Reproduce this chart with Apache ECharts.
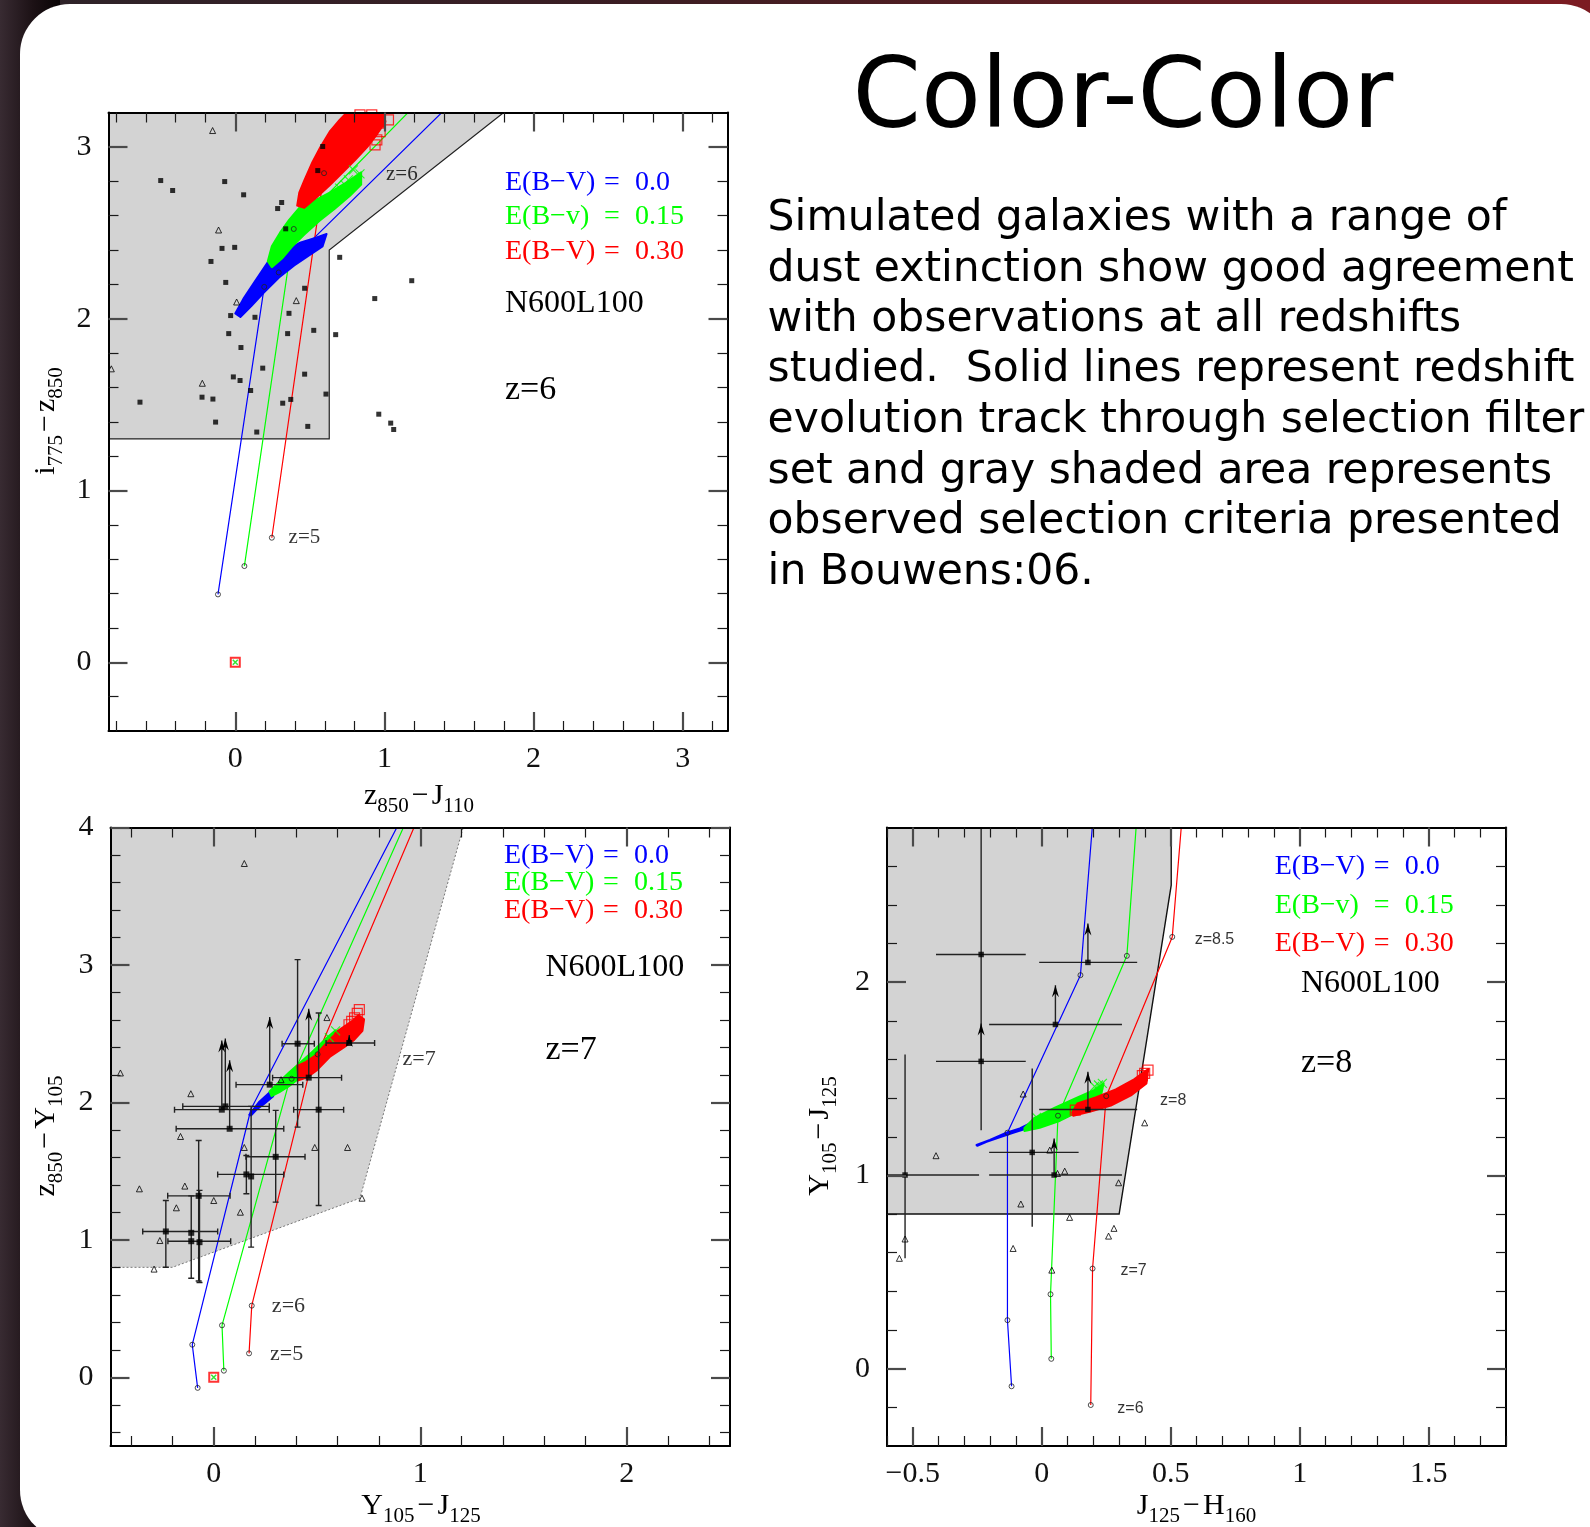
<!DOCTYPE html>
<html>
<head>
<meta charset="utf-8">
<title>Color-Color</title>
<script src="https://cdn.jsdelivr.net/npm/echarts@6.0.0/dist/echarts.min.js"></script>
<style>
  html, body { margin:0; padding:0; width:1590px; height:1527px; overflow:hidden; }
  body { position:relative; background:linear-gradient(90deg,#2d2329 0%,#3b1d23 40%,#7c1c22 100%); }
  #rim { position:absolute; left:0; top:0; width:60px; height:1527px; background:linear-gradient(90deg,#382b32 0%,#1c1115 55%,#080405 100%); }
  #card { position:absolute; left:20px; top:4px; width:1591px; height:1536px; background:#fff; border-radius:50px; }
  #chart { position:absolute; left:0; top:0; width:1590px; height:1527px; }
</style>
</head>
<body>
<div id="rim"></div>
<div id="card"></div>
<div id="chart"></div>
<script>
const SERIF = '"Liberation Serif", "Times New Roman", serif';
const SANS = '"DejaVu Sans", Verdana, sans-serif';
const HELV = '"Liberation Sans", Arial, sans-serif';
const TRACK_COLORS = ['#0000ff', '#00ff00', '#ff0000'];

// ---------- Slide text ----------
const slideTitle = 'Color-Color';
const bodyLines = [
  'Simulated galaxies with a range of',
  'dust extinction show good agreement',
  'with observations at all redshifts',
  'studied.  Solid lines represent redshift',
  'evolution track through selection filter',
  'set and gray shaded area represents',
  'observed selection criteria presented',
  'in Bouwens:06.'
];

// ---------- Panel 1 : i775-z850 vs z850-J110 (z=6) ----------
const p1XRange = [-0.85, 3.3];
const p1YRange = [-0.4, 3.2];
const p1XMajor = [0, 1, 2, 3];
const p1YMajor = [0, 1, 2, 3];
const p1Shade = [[-0.85,1.3],[0.63,1.3],[0.63,2.40],[1.80,3.2],[-0.85,3.2]];
const p1BlueTrack = [[-0.116,0.395],[0.194,2.185],[1.40,3.213]];
const p1GreenTrack = [[0.061,0.560],[0.392,2.522],[1.17,3.21]];
const p1RedTrack = [[0.245,0.725],[0.595,2.847],[1.02,3.21]];
const p1TrackMarks = [[-0.116,0.395],[0.061,0.560],[0.245,0.725],[0.194,2.185],[0.291,2.269],[0.392,2.522],[0.595,2.847]];
const p1BlueCloud = [[0.0,2.030],[0.054,2.115],[0.122,2.204],[0.177,2.275],[0.231,2.345],[0.327,2.392],[0.429,2.440],[0.531,2.469],[0.612,2.493],[0.585,2.420],[0.497,2.370],[0.395,2.310],[0.293,2.240],[0.190,2.150],[0.109,2.075],[0.034,2.010]];
const p1GreenCloud = [[0.218,2.334],[0.245,2.422],[0.299,2.499],[0.361,2.575],[0.429,2.644],[0.531,2.687],[0.633,2.734],[0.735,2.787],[0.844,2.852],[0.844,2.780],[0.769,2.715],[0.667,2.640],[0.565,2.570],[0.463,2.490],[0.381,2.420],[0.313,2.350],[0.245,2.300]];
const p1RedCloud = [[0.415,2.658],[0.429,2.734],[0.463,2.805],[0.517,2.911],[0.571,2.999],[0.633,3.088],[0.701,3.158],[0.748,3.2],[0.993,3.2],[1.007,3.147],[0.952,3.076],[0.884,2.999],[0.803,2.923],[0.721,2.852],[0.633,2.776],[0.544,2.705],[0.463,2.646]];
const p1RedSquares = [[0.792,3.157],[0.859,3.167],[0.915,3.186],[0.960,3.138],[0.971,3.089],[0.949,3.041],[0.937,3.012],[1.027,3.157],[0.836,3.186],[0.770,3.138],[0.893,3.080]];
const p1GreenCrosses = [[0.836,2.843],[0.758,2.808],[0.736,2.779],[0.792,2.866],[0.700,2.760]];
const p1Squares = [[0.586,3.002],[0.553,2.862],[-0.500,2.804],[-0.420,2.746],[-0.071,2.798],[0.056,2.721],[0.311,2.676],[0.284,2.641],[0.338,2.523],[-0.089,2.409],[-0.004,2.415],[-0.163,2.333],[-0.064,2.211],[0.465,2.177],[0.132,2.008],[0.360,2.031],[-0.031,2.018],[-0.044,1.913],[0.351,1.913],[0.526,1.932],[0.673,1.907],[0.700,2.357],[1.183,2.221],[0.935,2.117],[0.038,1.832],[0.184,1.712],[-0.013,1.661],[0.032,1.640],[0.465,1.677],[0.103,1.582],[0.608,1.561],[-0.639,1.514],[-0.223,1.543],[-0.150,1.532],[0.318,1.508],[0.372,1.530],[-0.132,1.398],[0.144,1.340],[0.486,1.373],[0.962,1.444],[1.042,1.392],[1.062,1.355]];
const p1Triangles = [[-0.152,3.095],[-0.112,2.516],[0.009,2.097],[0.409,2.105],[-0.831,1.708],[-0.221,1.624]];
const p1Notes = [[0.354,0.725,'z=5'],[1.007,2.84,'z=6']];
const p1Legend = [['E(B−V)','0.0'],['E(B−v)','0.15'],['E(B−V)','0.30']];
const p1Model = 'N600L100';
const p1Redshift = 'z=6';

// ---------- Panel 2 : z850-Y105 vs Y105-J125 (z=7) ----------
const p2XRange = [-0.5, 2.5];
const p2YRange = [-0.5, 4];
const p2XMajor = [0, 1, 2];
const p2YMajor = [0, 1, 2, 3, 4];
const p2Shade = [[-0.5,0.8],[-0.2,0.8],[0.708,1.303],[1.208,4.0],[-0.5,4.0]];
const p2BlueTrack = [[-0.078,-0.077],[-0.104,0.237],[0.18,1.95],[0.921,4.1]];
const p2GreenTrack = [[0.049,0.048],[0.040,0.378],[0.36,2.12],[0.948,4.1]];
const p2RedTrack = [[0.171,0.174],[0.184,0.521],[0.46,2.2],[0.998,4.1]];
const p2TrackMarks = [[-0.078,-0.077],[-0.104,0.237],[0.049,0.048],[0.040,0.378],[0.171,0.174],[0.184,0.521],[0.377,2.172],[0.503,2.35]];
const p2BlueCloud = [[0.172,1.910],[0.221,2.005],[0.269,2.070],[0.292,2.100],[0.288,2.045],[0.245,1.990],[0.205,1.945],[0.180,1.905]];
const p2GreenCloud = [[0.270,2.080],[0.318,2.150],[0.366,2.220],[0.415,2.285],[0.479,2.370],[0.544,2.465],[0.590,2.525],[0.575,2.430],[0.520,2.350],[0.447,2.240],[0.400,2.160],[0.366,2.120],[0.318,2.075],[0.280,2.045]];
const p2RedCloud = [[0.405,2.265],[0.447,2.295],[0.495,2.345],[0.544,2.430],[0.592,2.512],[0.640,2.560],[0.673,2.595],[0.700,2.635],[0.728,2.605],[0.720,2.520],[0.680,2.455],[0.630,2.400],[0.565,2.335],[0.500,2.235],[0.450,2.180],[0.410,2.160]];
const p2RedSquares = [[0.705,2.675],[0.695,2.648],[0.682,2.615],[0.668,2.590],[0.655,2.565]];
const p2GreenCrosses = [[0.560,2.470],[0.590,2.520]];
const p2Triangles = [[0.148,3.738],[0.548,2.617],[-0.452,2.214],[-0.111,2.063],[0.326,2.165],[-0.161,1.752],[0.148,1.672],[0.489,1.672],[0.648,1.672],[-0.360,1.371],[-0.140,1.391],[0.0,1.286],[-0.181,1.233],[0.129,1.201],[0.718,1.303],[-0.261,0.995],[-0.289,0.787]];
// [x, y, xLow, xHigh, yLow, yHigh, lowerLimitArrowTop]
const p2Obs = [
  [0.406,2.427,0.331,0.487,1.820,3.039,null],
  [0.460,2.180,0.285,0.619,null,null,2.682],
  [0.508,1.947,0.387,0.629,1.250,2.650,null],
  [0.271,2.129,0.108,0.431,null,null,2.621],
  [0.039,1.947,-0.190,0.269,null,null,2.451],
  [0.056,1.971,-0.150,0.269,null,null,2.464],
  [0.077,1.808,-0.182,0.339,null,null,2.306],
  [0.158,1.476,0.019,0.339,1.335,1.614,null],
  [0.181,1.461,null,null,0.947,1.971,null],
  [0.300,1.604,0.156,0.442,1.274,1.942,null],
  [-0.073,1.320,-0.223,0.079,0.700,1.723,null],
  [-0.232,1.061,-0.344,0.019,0.800,1.286,null],
  [-0.109,1.051,null,null,0.720,1.320,null],
  [-0.109,0.990,-0.222,0.082,null,null,null],
  [-0.069,0.983,null,null,0.690,1.360,null],
  [0.656,2.432,0.544,0.779,null,null,2.49]
];
const p2Notes = [[0.279,0.517,'z=6'],[0.270,0.170,'z=5'],[0.912,2.317,'z=7']];
const p2Legend = [['E(B−V)','0.0'],['E(B−V)','0.15'],['E(B−V)','0.30']];
const p2Model = 'N600L100';
const p2Redshift = 'z=7';

// ---------- Panel 3 : Y105-J125 vs J125-H160 (z=8) ----------
const p3XRange = [-0.6, 1.8];
const p3YRange = [-0.4, 2.8];
const p3XMajor = [-0.5, 0, 0.5, 1, 1.5];
const p3YMajor = [0, 1, 2];
const p3Shade = [[-0.6,0.8],[0.3,0.8],[0.502,2.502],[0.502,2.8],[-0.6,2.8]];
const p3BlueTrack = [[-0.117,-0.091],[-0.133,0.251],[-0.133,1.221],[0.150,2.036],[0.196,2.803],[0.202,2.9]];
const p3GreenTrack = [[0.037,0.051],[0.034,0.385],[0.063,1.309],[0.330,2.136],[0.366,2.803],[0.372,2.9]];
const p3RedTrack = [[0.190,-0.188],[0.197,0.518],[0.25,1.41],[0.506,2.234],[0.541,2.803],[0.547,2.9]];
const p3TrackMarks = [[-0.117,-0.091],[-0.133,0.251],[-0.133,1.221],[0.150,2.036],[0.037,0.051],[0.034,0.385],[0.063,1.309],[0.330,2.136],[0.190,-0.188],[0.197,0.518],[0.25,1.41],[0.506,2.234]];
const p3BlueCloud = [[-0.253,1.157],[-0.201,1.183],[-0.137,1.221],[-0.085,1.243],[-0.046,1.269],[-0.059,1.243],[-0.111,1.221],[-0.163,1.197],[-0.214,1.174],[-0.250,1.153]];
const p3GreenCloud = [[-0.067,1.246],[-0.028,1.298],[0.051,1.351],[0.130,1.398],[0.209,1.445],[0.240,1.476],[0.228,1.403],[0.150,1.335],[0.071,1.283],[-0.008,1.246],[-0.067,1.230]];
const p3RedCloud = [[0.118,1.325],[0.138,1.372],[0.209,1.403],[0.287,1.445],[0.358,1.497],[0.413,1.550],[0.406,1.476],[0.346,1.414],[0.268,1.361],[0.189,1.330],[0.122,1.309]];
const p3RedSquares = [[0.412,1.545],[0.399,1.528],[0.390,1.516],[0.130,1.338]];
const p3GreenCrosses = [[0.205,1.460],[0.220,1.468],[0.235,1.476],[-0.020,1.300]];
const p3Triangles = [[-0.072,1.421],[-0.410,1.102],[0.031,1.131],[0.089,1.022],[0.061,1.010],[0.298,0.962],[0.399,1.272],[-0.081,0.852],[0.108,0.783],[0.280,0.726],[0.259,0.686],[-0.111,0.622],[-0.530,0.671],[-0.552,0.571],[0.039,0.510]];
const p3Obs = [
  [-0.235,2.143,-0.410,-0.062,1.234,2.8,null],
  [-0.235,1.590,-0.410,-0.062,null,null,1.786],
  [0.179,2.102,-0.010,0.370,null,null,2.303],
  [0.053,1.781,-0.204,0.311,null,null,1.984],
  [0.179,1.341,-0.010,0.370,null,null,1.536],
  [-0.037,1.119,-0.204,0.143,0.734,1.553,null],
  [-0.530,1.002,-0.600,-0.243,0.571,1.626,null],
  [0.048,1.002,-0.204,0.311,null,null,1.191]
];
const p3Notes = [[0.591,2.22,'z=8.5'],[0.457,1.387,'z=8'],[0.303,0.508,'z=7'],[0.291,-0.204,'z=6']];
const p3Legend = [['E(B−V)','0.0'],['E(B−v)','0.15'],['E(B−V)','0.30']];
const p3Model = 'N600L100';
const p3Redshift = 'z=8';

// reference colour point at the origin (panels 1 and 2)
const originPoint = [[0, 0]];

// ---------- helpers ----------
function minorTicks(lo, hi, step, majors) {
  const out = [];
  const n = Math.round((hi - lo) / step);
  for (let i = 0; i <= n; i++) {
    const v = Math.round((lo + i * step) * 1000) / 1000;
    if (!majors.some(m => Math.abs(m - v) < 1e-6)) out.push(v);
  }
  return out;
}
const fmt = v => (v < 0 ? '−' : '') + String(Math.abs(Math.round(v * 100) / 100));

const panels = [
  { grid:{left:108.5, top:112.5, width:619, height:618.5},
    xRange:p1XRange, yRange:p1YRange, xMajor:p1XMajor, yMajor:p1YMajor,
    xMinor:minorTicks(-0.8, 3.2, 0.2, p1XMajor), yMinor:minorTicks(-0.2, 3.0, 0.2, p1YMajor),
    shade:p1Shade, shadeStyle:{stroke:'#222', lineWidth:1.2},
    tracks:[p1BlueTrack, p1GreenTrack, p1RedTrack], marks:p1TrackMarks,
    clouds:[p1BlueCloud, p1GreenCloud, p1RedCloud],
    redSquares:p1RedSquares, greenCrosses:p1GreenCrosses,
    squares:p1Squares, squareSize:5, triangles:p1Triangles, obs:null,
    notes:p1Notes, noteFont:SERIF, noteSize:21, origin:true },
  { grid:{left:110.5, top:827.5, width:619.5, height:618.5},
    xRange:p2XRange, yRange:p2YRange, xMajor:p2XMajor, yMajor:p2YMajor,
    xMinor:minorTicks(-0.4, 2.4, 0.2, p2XMajor), yMinor:minorTicks(-0.4, 3.8, 0.2, p2YMajor),
    shade:p2Shade, shadeStyle:{stroke:'#777', lineWidth:1, lineDash:[2,2]},
    tracks:[p2BlueTrack, p2GreenTrack, p2RedTrack], marks:p2TrackMarks,
    clouds:[p2BlueCloud, p2GreenCloud, p2RedCloud],
    redSquares:p2RedSquares, greenCrosses:p2GreenCrosses,
    squares:p2Obs.map(o => [o[0], o[1]]), squareSize:6, triangles:p2Triangles, obs:p2Obs, caps:true,
    notes:p2Notes, noteFont:SERIF, noteSize:22, origin:true },
  { grid:{left:887, top:827.5, width:619, height:618.5},
    xRange:p3XRange, yRange:p3YRange, xMajor:p3XMajor, yMajor:p3YMajor,
    xMinor:minorTicks(-0.6, 1.8, 0.1, p3XMajor), yMinor:minorTicks(-0.2, 2.6, 0.2, p3YMajor),
    shade:p3Shade, shadeStyle:{stroke:'#111', lineWidth:1.4},
    tracks:[p3BlueTrack, p3GreenTrack, p3RedTrack], marks:p3TrackMarks,
    clouds:[p3BlueCloud, p3GreenCloud, p3RedCloud],
    redSquares:p3RedSquares, greenCrosses:p3GreenCrosses,
    squares:p3Obs.map(o => [o[0], o[1]]), squareSize:5.5, triangles:p3Triangles, obs:p3Obs, caps:false,
    notes:p3Notes, noteFont:HELV, noteSize:16, origin:false }
];

function axisSet(dim, gi, range, major, minor) {
  const pos = dim === 'x' ? ['bottom', 'top'] : ['left', 'right'];
  const base = {type:'value', gridIndex:gi, min:range[0], max:range[1], z:10,
                splitLine:{show:false}, splitArea:{show:false}};
  const line = {show:true, onZero:false, lineStyle:{color:'#000', width:2}};
  const noLine = {show:false, onZero:false};
  const majorTick = {show:true, inside:true, length:19, customValues:major, lineStyle:{color:'#4a4a4a', width:2.2}};
  const minorTick = {show:true, inside:true, length:10, customValues:minor, lineStyle:{color:'#1a1a1a', width:1.2}};
  const label = {show:true, customValues:major, formatter:fmt, fontFamily:SERIF, fontSize:30,
                 color:'#111', margin: dim === 'x' ? 13 : 17};
  return [
    Object.assign({}, base, {position:pos[0], axisLine:line, axisTick:majorTick, axisLabel:label}),
    Object.assign({}, base, {position:pos[0], axisLine:noLine, axisTick:minorTick, axisLabel:{show:false}}),
    Object.assign({}, base, {position:pos[1], axisLine:line, axisTick:majorTick, axisLabel:{show:false}}),
    Object.assign({}, base, {position:pos[1], axisLine:noLine, axisTick:minorTick, axisLabel:{show:false}})
  ];
}

function polygonSeries(ax, verts, style, z) {
  return Object.assign({type:'custom', z, silent:true, clip:true, data:verts, encode:{x:0, y:1},
    renderItem(params, api) {
      if (params.dataIndex !== 0) return null;
      return {type:'polygon', shape:{points:verts.map(v => api.coord(v))}, style};
    }}, ax);
}

function errorBarSeries(ax, obs, caps) {
  return Object.assign({type:'custom', z:6, silent:true, clip:true,
    data:obs.map(o => [o[0], o[1]]), encode:{x:0, y:1},
    renderItem(params, api) {
      const o = obs[params.dataIndex];
      const ch = [];
      const st = {stroke:'#222', lineWidth:1.4};
      const seg = (a, b) => ch.push({type:'line', shape:{x1:a[0], y1:a[1], x2:b[0], y2:b[1]}, style:st});
      if (o[2] != null) {
        const a = api.coord([o[2], o[1]]), b = api.coord([o[3], o[1]]);
        seg(a, b);
        if (caps) { seg([a[0], a[1]-3], [a[0], a[1]+3]); seg([b[0], b[1]-3], [b[0], b[1]+3]); }
      }
      if (o[4] != null) {
        const a = api.coord([o[0], o[4]]), b = api.coord([o[0], o[5]]);
        seg(a, b);
        if (caps) { seg([a[0]-3, a[1]], [a[0]+3, a[1]]); seg([b[0]-3, b[1]], [b[0]+3, b[1]]); }
      }
      if (o[6] != null) {
        const a = api.coord([o[0], o[1]]), b = api.coord([o[0], o[6]]);
        seg(a, b);
        ch.push({type:'polygon', shape:{points:[[b[0], b[1]], [b[0]-3.5, b[1]+12], [b[0], b[1]+8], [b[0]+3.5, b[1]+12]]},
                 style:{fill:'#000'}});
      }
      return {type:'group', children:ch};
    }}, ax);
}

const xAxes = [], yAxes = [], grids = [], series = [];
const CROSS = 'path://M0,0L10,10M10,0L0,10';

panels.forEach((p, gi) => {
  grids.push(Object.assign({containLabel:false}, p.grid));
  xAxes.push(...axisSet('x', gi, p.xRange, p.xMajor, p.xMinor));
  yAxes.push(...axisSet('y', gi, p.yRange, p.yMajor, p.yMinor));
  const ax = {xAxisIndex:4 * gi, yAxisIndex:4 * gi};

  series.push(polygonSeries(ax, p.shade, Object.assign({fill:'#d3d3d3'}, p.shadeStyle), 1));
  p.tracks.forEach((t, k) => series.push(Object.assign({type:'line', data:t, symbol:'none', clip:true, z:2,
      silent:true, lineStyle:{color:TRACK_COLORS[k], width:1.2}}, ax)));
  p.clouds.forEach((c, k) => series.push(polygonSeries(ax, c,
      {fill:TRACK_COLORS[k], stroke:TRACK_COLORS[k], lineWidth:2, lineJoin:'round'}, 3)));
  series.push(Object.assign({type:'scatter', data:p.redSquares, symbol:'rect', symbolSize:10, z:4, silent:true,
      itemStyle:{color:'rgba(0,0,0,0)', borderColor:'#ff0000', borderWidth:1.2}}, ax));
  series.push(Object.assign({type:'scatter', data:p.greenCrosses, symbol:CROSS, symbolSize:9, z:4, silent:true,
      itemStyle:{color:'rgba(0,0,0,0)', borderColor:'#00ff00', borderWidth:1.2}}, ax));
  series.push(Object.assign({type:'scatter', data:p.marks, symbol:'circle', symbolSize:5, z:5, silent:true,
      itemStyle:{color:'rgba(0,0,0,0)', borderColor:'#222', borderWidth:1}}, ax));
  if (p.obs) series.push(errorBarSeries(ax, p.obs, p.caps));
  series.push(Object.assign({type:'scatter', data:p.squares, symbol:'rect', symbolSize:p.squareSize, z:6, silent:true,
      itemStyle:{color:'#000'}}, ax));
  series.push(Object.assign({type:'scatter', data:p.triangles, symbol:'triangle', symbolSize:6, z:6, silent:true,
      itemStyle:{color:'rgba(0,0,0,0)', borderColor:'#000', borderWidth:1}}, ax));
  if (p.origin) {
    series.push(Object.assign({type:'scatter', data:originPoint, symbol:'rect', symbolSize:9, z:6, silent:true,
        itemStyle:{color:'rgba(0,0,0,0)', borderColor:'#ff0000', borderWidth:2}}, ax));
    series.push(Object.assign({type:'scatter', data:originPoint, symbol:CROSS, symbolSize:5, z:7, silent:true,
        itemStyle:{color:'rgba(0,0,0,0)', borderColor:'#00dd00', borderWidth:1.5}}, ax));
  }
  series.push(Object.assign({type:'scatter', data:p.notes, symbolSize:1, z:7, silent:true,
      itemStyle:{color:'rgba(0,0,0,0)'},
      label:{show:true, position:'right', distance:0, formatter:q => q.data[2],
             fontFamily:p.noteFont, fontSize:p.noteSize, color:'#000'}}, ax));
});

// ---------- text blocks ----------
const measureCtx = document.createElement('canvas').getContext('2d');
function textWidth(str, size, family) {
  measureCtx.font = size + 'px ' + family;
  return measureCtx.measureText(str).width;
}
function axisTitle(parts, cx, cy, vertical) {
  const MAIN = 30, SUB = 21, DROP = 10, GAP = 3;
  const widths = parts.map(pt => textWidth(pt[0], pt[1] ? SUB : MAIN, SERIF) + (pt[0] === '−' ? 2 * GAP : 0));
  const total = widths.reduce((a, b) => a + b, 0);
  let x = -total / 2;
  const children = parts.map((pt, i) => {
    const el = {type:'text', x:x + (pt[0] === '−' ? GAP : 0), y:pt[1] ? DROP : 0,
      style:{text:pt[0], fontSize:pt[1] ? SUB : MAIN, fontFamily:SERIF, fill:'#000', align:'left', verticalAlign:'middle'}};
    x += widths[i];
    return el;
  });
  return {type:'group', x:cx, y:cy, rotation:vertical ? Math.PI / 2 : 0, children};
}
function legendBlock(rows, x0, rowY, model, modelX, modelY, redshift, zY) {
  const els = [];
  const st = (text, fill, size) => ({text, fill, fontSize:size, fontFamily:SERIF, align:'left', verticalAlign:'middle'});
  rows.forEach((r, i) => {
    els.push({type:'text', x:x0, y:rowY[i], style:st(r[0], TRACK_COLORS[i], 28)});
    els.push({type:'text', x:x0 + 99, y:rowY[i], style:st('=', TRACK_COLORS[i], 28)});
    els.push({type:'text', x:x0 + 130, y:rowY[i], style:st(r[1], TRACK_COLORS[i], 28)});
  });
  els.push({type:'text', x:modelX, y:modelY, style:st(model, '#000', 32)});
  els.push({type:'text', x:modelX, y:zY, style:st(redshift, '#000', 34)});
  return els;
}

const graphics = [];
graphics.push({type:'text', x:1123, y:102, style:{text:slideTitle, fontSize:98, fontFamily:SANS, fill:'#000',
  align:'center', verticalAlign:'middle'}});
const bodyY = [219, 269.7, 320.4, 370, 420.8, 471.5, 522.2, 572.9];
bodyLines.forEach((t, i) => graphics.push({type:'text', x:767.6, y:bodyY[i],
  style:{text:t, fontSize:42.5, fontFamily:SANS, fill:'#000', align:'left', verticalAlign:'middle'}}));

graphics.push(...legendBlock(p1Legend, 505, [182.5, 217, 251.5], p1Model, 505, 304, p1Redshift, 390));
graphics.push(...legendBlock(p2Legend, 504, [856, 883, 910.5], p2Model, 545.5, 967.5, p2Redshift, 1050.5));
graphics.push(...legendBlock(p3Legend, 1274.7, [867, 905.5, 944], p3Model, 1301, 983.6, p3Redshift, 1062.7));

graphics.push(axisTitle([['z',0],['850',1],['−',0],['J',0],['110',1]], 419, 796, false));
graphics.push(axisTitle([['i',0],['775',1],['−',0],['z',0],['850',1]], 46, 421, true));
graphics.push(axisTitle([['Y',0],['105',1],['−',0],['J',0],['125',1]], 421, 1506, false));
graphics.push(axisTitle([['z',0],['850',1],['−',0],['Y',0],['105',1]], 46, 1136, true));
graphics.push(axisTitle([['J',0],['125',1],['−',0],['H',0],['160',1]], 1196.5, 1506, false));
graphics.push(axisTitle([['Y',0],['105',1],['−',0],['J',0],['125',1]], 820, 1136, true));

const chart = echarts.init(document.getElementById('chart'), null, {renderer:'canvas'});
chart.setOption({
  animation:false,
  backgroundColor:'transparent',
  grid:grids,
  xAxis:xAxes,
  yAxis:yAxes,
  series,
  graphic:{elements:graphics}
});
</script>
</body>
</html>
